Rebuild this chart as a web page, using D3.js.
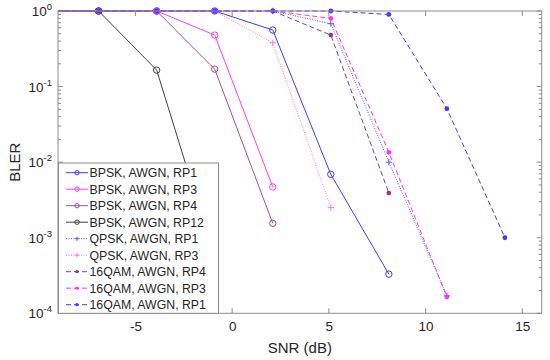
<!DOCTYPE html>
<html>
<head>
<meta charset="utf-8">
<script src="https://cdn.jsdelivr.net/npm/d3@7"></script>
<style>
  html, body { margin: 0; padding: 0; background: #fff; }
  svg { display: block; font-family: "Liberation Sans", Arial, sans-serif; }
</style>
</head>
<body>
<svg id="chart" width="550" height="360"></svg>
<script>
// ---- data ----
const snr = [-9.9, -6.9, -3.9, -0.9, 2.1, 5.1, 8.1, 11.1, 14.1];
const seriesNames = [
  "BPSK, AWGN, RP1", "BPSK, AWGN, RP3", "BPSK, AWGN, RP4", "BPSK, AWGN, RP12",
  "QPSK, AWGN, RP1", "QPSK, AWGN, RP3",
  "16QAM, AWGN, RP4", "16QAM, AWGN, RP3", "16QAM, AWGN, RP1"
];
const bpskRP1 = [1, 1, 1, 1, 0.56, 6.9e-3, 3.3e-4];
const bpskRP3 = [1, 1, 1, 0.48, 4.7e-3];
const bpskRP4 = [1, 1, 1, 0.17, 1.55e-3];
const bpskRP12 = [1, 1, 0.165, 5.4e-4];
const qpskRP1 = [1, 1, 1, 1, 1, 0.68, 0.01, 1.7e-4];
const qpskRP3 = [1, 1, 1, 1, 0.38, 2.5e-3];
const qam16RP4 = [1, 1, 1, 1, 1, 0.48, 3.9e-3];
const qam16RP3 = [1, 1, 1, 1, 1, 0.8, 0.0135, 1.65e-4];
const qam16RP1 = [1, 1, 1, 1, 1, 1, 0.9, 0.051, 1.0e-3];
const xTicks = [-5, 0, 5, 10, 15];
const yTickExps = [0, -1, -2, -3, -4];
const xLabel = "SNR (dB)";
const yLabel = "BLER";

// ---- styles ----
const styles = [
  { color: "#3c3cff", dash: null, marker: "circle" },
  { color: "#ff3cff", dash: null, marker: "circle" },
  { color: "#a050a0", dash: null, marker: "circle" },
  { color: "#404040", dash: null, marker: "circle" },
  { color: "#5a5aff", dash: "1,1.5", marker: "plus" },
  { color: "#ff70ff", dash: "1,1.5", marker: "plus" },
  { color: "#8a3a8a", dash: "5,3", marker: "dot" },
  { color: "#ff30ff", dash: "5,3", marker: "dot" },
  { color: "#3c3cff", dash: "5,3", marker: "dot" }
];
const allValues = [bpskRP1, bpskRP3, bpskRP4, bpskRP12, qpskRP1, qpskRP3, qam16RP4, qam16RP3, qam16RP1];

const L = 58, R = 541.7, T = 11, B = 313.3;
const svg = d3.select("#chart");
svg.append("rect").attr("width", 550).attr("height", 360).attr("fill", "#fff");

const x = d3.scaleLinear().domain([-9, 16]).range([L, R]);
const y = d3.scaleLog().domain([1e-4, 1]).range([B, T]);

svg.append("defs").append("clipPath").attr("id", "clip")
  .append("rect").attr("x", L).attr("y", T - 4).attr("width", R - L).attr("height", B - T + 4);

const axisColor = "#8c8c8c";
const g = svg.append("g");
for (let e = -4; e <= 0; e++) {
  const base = Math.pow(10, e);
  const yy = y(base);
  [[L, 1], [R, -1]].forEach(([xx, dir]) => {
    g.append("line").attr("x1", xx).attr("x2", xx + dir * 5).attr("y1", yy).attr("y2", yy)
      .attr("stroke", axisColor).attr("stroke-width", 1);
  });
  if (e < 0) {
    for (let k = 2; k <= 9; k++) {
      const yv = y(base * k);
      [[L, 1], [R, -1]].forEach(([xx, dir]) => {
        g.append("line").attr("x1", xx).attr("x2", xx + dir * 3).attr("y1", yv).attr("y2", yv)
          .attr("stroke", axisColor).attr("stroke-width", 1);
      });
    }
  }
}
xTicks.forEach(t => {
  const xx = x(t);
  g.append("line").attr("x1", xx).attr("x2", xx).attr("y1", B).attr("y2", B - 5)
    .attr("stroke", axisColor).attr("stroke-width", 1);
  g.append("line").attr("x1", xx).attr("x2", xx).attr("y1", T).attr("y2", T + 5)
    .attr("stroke", axisColor).attr("stroke-width", 1);
});

// x tick labels via d3 axis (labels only)
const xAxis = d3.axisBottom(x).tickValues(xTicks).tickSize(0).tickPadding(0)
  .tickFormat(d => String(d));
const xg = svg.append("g").attr("transform", `translate(0,${B + 8})`).call(xAxis);
xg.select(".domain").remove();
xg.selectAll("text").attr("font-size", "13.5px").attr("fill", "#262626")
  .attr("font-family", "Liberation Sans, Arial, sans-serif");

// y tick labels 10^e
yTickExps.forEach(e => {
  const t = svg.append("text").attr("x", 52).attr("y", y(Math.pow(10, e)) + 5)
    .attr("text-anchor", "end").attr("font-size", "13.5px").attr("fill", "#262626");
  t.append("tspan").text("10");
  t.append("tspan").attr("dy", -6).attr("font-size", "9.5px").text(String(e));
});

// axis labels
svg.append("text").attr("x", (L + R) / 2).attr("y", 353).attr("text-anchor", "middle")
  .attr("font-size", "15px").attr("fill", "#262626").text(xLabel);
svg.append("text").attr("transform", `translate(20,${(T + B) / 2}) rotate(-90)`)
  .attr("text-anchor", "middle").attr("font-size", "15px").attr("fill", "#262626").text(yLabel);

// data
const plot = svg.append("g").attr("clip-path", "url(#clip)");
const line = d3.line().x(d => x(d[0])).y(d => y(d[1]));

function drawMarker(sel, type, color, cx, cy, size) {
  if (type === "circle") {
    sel.append("circle").attr("cx", cx).attr("cy", cy).attr("r", size)
      .attr("fill", "none").attr("stroke", color).attr("stroke-width", 1);
  } else if (type === "plus") {
    sel.append("path").attr("d", `M${cx - size},${cy}H${cx + size}M${cx},${cy - size}V${cy + size}`)
      .attr("stroke", color).attr("stroke-width", 1);
  } else {
    sel.append("circle").attr("cx", cx).attr("cy", cy).attr("r", size * 0.75)
      .attr("fill", color).attr("stroke", "none");
  }
}

allValues.forEach((vals, i) => {
  const st = styles[i];
  const pts = vals.map((v, j) => [snr[j], v]);
  plot.append("path").datum(pts).attr("d", line).attr("fill", "none")
    .attr("stroke", st.color).attr("stroke-width", 1)
    .attr("stroke-dasharray", st.dash);
  pts.forEach(p => drawMarker(plot, st.marker, st.color, x(p[0]), y(p[1]), 3.2));
});

// box
svg.append("rect").attr("x", L).attr("y", T).attr("width", R - L).attr("height", B - T)
  .attr("fill", "none").attr("stroke", axisColor).attr("stroke-width", 1);

// legend
const lgX = 58.5, lgY = 163, lgW = 160, lgH = 150.3;
const lg = svg.append("g");
lg.append("rect").attr("x", lgX).attr("y", lgY).attr("width", lgW).attr("height", lgH)
  .attr("fill", "#fff").attr("stroke", "#8c8c8c").attr("stroke-width", 1);
seriesNames.forEach((name, i) => {
  const st = styles[i];
  const yy = 172.7 + i * 16.5;
  lg.append("line").attr("x1", 66).attr("x2", 88).attr("y1", yy).attr("y2", yy)
    .attr("stroke", st.color).attr("stroke-width", 1).attr("stroke-dasharray", st.dash);
  drawMarker(lg, st.marker, st.color, 77, yy, 2.2);
  lg.append("text").attr("x", 89.5).attr("y", yy + 4.4).attr("font-size", "12.3px")
    .attr("fill", "#262626").text(name);
});
</script>
</body>
</html>
